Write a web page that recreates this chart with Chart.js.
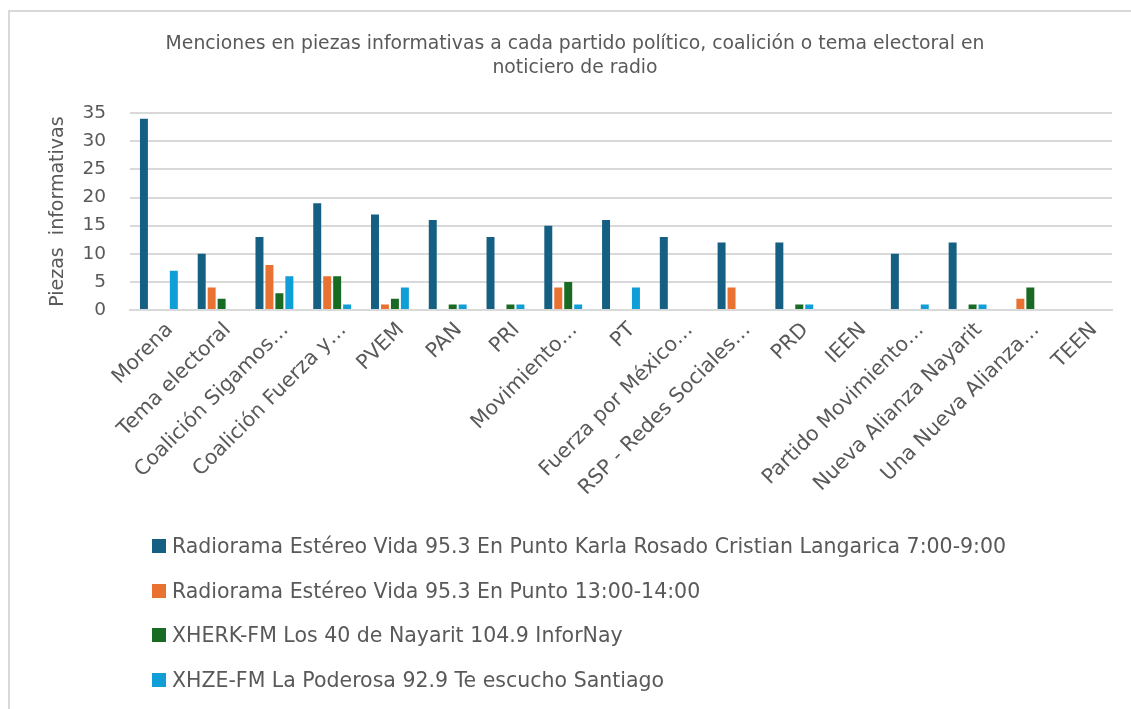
<!DOCTYPE html>
<html>
<head>
<meta charset="utf-8">
<script src="https://cdn.jsdelivr.net/npm/chart.js@4/dist/chart.umd.min.js"></script>
<style>
  html, body { margin: 0; padding: 0; background: #ffffff; }
  #wrap { position: relative; width: 1131px; height: 709px; overflow: hidden; }
  #frame { position: absolute; left: 8px; top: 10px; width: 1140px; height: 720px; border: 2px solid #d9d9d9; box-sizing: border-box; }
  canvas { position: absolute; left: 0; top: 0; }
  #legend { position: absolute; left: 152px; top: 534px; font-family: "DejaVu Sans", sans-serif; font-size: 20.5px; color: #595959; }
  .item { height: 44.7px; display: flex; align-items: flex-start; white-space: nowrap; }
  .sw { width: 14px; height: 14px; margin-top: 5px; margin-right: 6px; flex: none; }
</style>
</head>
<body>
<div id="wrap">
  <div id="frame"></div>
  <canvas id="c" width="1131" height="709"></canvas>
  <div id="legend"></div>
</div>
<script>
const categories = ["Morena", "Tema electoral", "Coalición Sigamos…", "Coalición Fuerza y…", "PVEM", "PAN", "PRI", "Movimiento…", "PT", "Fuerza por México…", "RSP - Redes Sociales…", "PRD", "IEEN", "Partido Movimiento…", "Nueva Alianza Nayarit", "Una Nueva Alianza…", "TEEN"];
const seriesNames = [
  "Radiorama Estéreo Vida 95.3 En Punto Karla Rosado Cristian Langarica 7:00-9:00",
  "Radiorama Estéreo Vida 95.3 En Punto 13:00-14:00",
  "XHERK-FM Los 40 de Nayarit 104.9 InforNay",
  "XHZE-FM La Poderosa 92.9 Te escucho Santiago"
];
const radioramaManana = [34, 10, 13, 19, 17, 16, 13, 15, 16, 13, 12, 12, 0, 10, 12, 0, 0];
const radioramaTarde  = [0, 4, 8, 6, 1, 0, 0, 4, 0, 0, 4, 0, 0, 0, 0, 2, 0];
const xherk           = [0, 2, 3, 6, 2, 1, 1, 5, 0, 0, 0, 1, 0, 0, 1, 4, 0];
const xhze            = [7, 0, 6, 1, 4, 1, 1, 1, 4, 0, 0, 1, 0, 1, 1, 0, 0];
const yTicks = [0, 5, 10, 15, 20, 25, 30, 35];
const titleLines = ["Menciones en piezas informativas a cada partido político, coalición o tema electoral en", "noticiero de radio"];
const yTitle = "Piezas  informativas";

const colors = ["#156082", "#E97132", "#196B24", "#0F9ED5"];
const seriesData = [radioramaManana, radioramaTarde, xherk, xhze];
const FONT = "'DejaVu Sans', sans-serif";
const GREY = "#595959";

const datasets = seriesData.map((d, i) => ({
  label: seriesNames[i],
  data: d,
  backgroundColor: colors[i],
  borderWidth: 0,
  categoryPercentage: 0.69,
  barPercentage: 0.8
}));

new Chart(document.getElementById("c"), {
  type: "bar",
  data: { labels: categories, datasets: datasets },
  options: {
    responsive: false,
    animation: false,
    layout: { padding: { left: 38, right: 19, top: 0, bottom: 0 } },
    plugins: {
      legend: { display: false },
      tooltip: { enabled: false },
      title: {
        display: true,
        text: titleLines,
        color: GREY,
        font: { family: FONT, size: 18.8, weight: "normal", lineHeight: 1.28 },
        padding: { top: 32, bottom: 33 }
      }
    },
    scales: {
      x: {
        grid: { display: false, drawTicks: false },
        border: { color: "#d9d9d9", width: 2 },
        ticks: {
          color: GREY,
          font: { family: FONT, size: 20.5 },
          minRotation: 45,
          maxRotation: 45,
          autoSkip: false,
          padding: 8,
          labelOffset: 11
        },
        afterFit: (s) => { s.height = 399; }
      },
      y: {
        min: 0,
        max: 35,
        afterBuildTicks: (s) => { s.ticks = yTicks.map(v => ({ value: v })); },
        grid: { color: "#d9d9d9", lineWidth: 2, drawTicks: false },
        border: { display: false },
        ticks: { color: GREY, font: { family: FONT, size: 18.5 }, padding: 24 },
        title: {
          display: true,
          text: yTitle,
          color: GREY,
          font: { family: FONT, size: 19 },
          padding: { top: 9, bottom: 0 }
        },
        afterFit: (s) => { s.width = 92; }
      }
    }
  }
});

const leg = document.getElementById("legend");
seriesNames.forEach((n, i) => {
  const row = document.createElement("div");
  row.className = "item";
  const sw = document.createElement("span");
  sw.className = "sw";
  sw.style.background = colors[i];
  const t = document.createElement("span");
  t.textContent = n;
  row.appendChild(sw);
  row.appendChild(t);
  leg.appendChild(row);
});
</script>
</body>
</html>
